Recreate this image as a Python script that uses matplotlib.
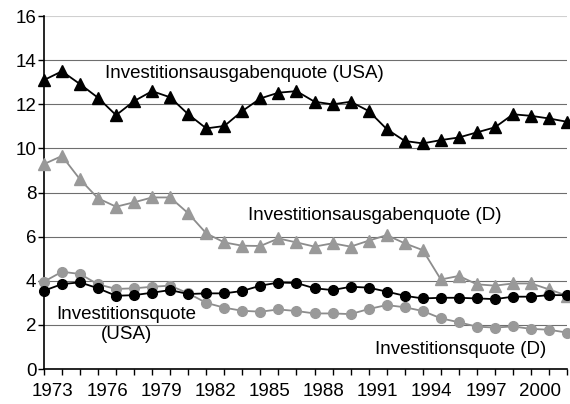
import numpy as np
import matplotlib
matplotlib.use("Agg")
import matplotlib.pyplot as plt

plt.rcParams['font.family'] = ['Liberation Sans', 'DejaVu Sans']

years = np.arange(1973, 2003)
year_labels = [1973, 1976, 1979, 1982, 1985, 1988, 1991, 1994, 1997, 2000]

ausgaben_usa = [13.1, 13.5, 12.92, 12.3, 11.51, 12.15, 12.6, 12.32, 11.55, 10.91,
                11.02, 11.7, 12.27, 12.53, 12.6, 12.12, 12.0, 12.12, 11.7, 10.88,
                10.34, 10.23, 10.38, 10.5, 10.73, 10.96, 11.55, 11.48, 11.36, 11.21]
ausgaben_d = [9.29, 9.66, 8.6, 7.74, 7.36, 7.56, 7.78, 7.78, 7.06, 6.15,
              5.74, 5.59, 5.58, 5.92, 5.74, 5.55, 5.7, 5.55, 5.82, 6.07,
              5.7, 5.39, 4.06, 4.22, 3.84, 3.78, 3.88, 3.88, 3.61, 3.32]
quote_usa = [3.55, 3.85, 3.93, 3.66, 3.32, 3.35, 3.46, 3.58, 3.40, 3.43,
             3.43, 3.54, 3.78, 3.92, 3.9, 3.66, 3.58, 3.73, 3.69, 3.51,
             3.32, 3.2, 3.23, 3.23, 3.2, 3.17, 3.28, 3.28, 3.35, 3.35]
quote_d = [3.96, 4.41, 4.31, 3.84, 3.63, 3.66, 3.73, 3.78, 3.43, 3.0,
           2.78, 2.64, 2.6, 2.7, 2.63, 2.52, 2.52, 2.49, 2.72, 2.9,
           2.8, 2.63, 2.3, 2.12, 1.92, 1.88, 1.93, 1.82, 1.78, 1.65]

gray = '#999999'
gray_line = '#8c8c8c'

fig = plt.figure(figsize=(5.7, 4.04), dpi=100)
ax = fig.add_axes([0.077, 0.0866, 0.918, 0.8734])

ax.plot(years, ausgaben_d, color=gray_line, lw=1.3, marker='^', ms=8,
        mfc=gray, mec=gray, zorder=3, clip_on=False)
ax.plot(years, quote_d, color=gray_line, lw=1.3, marker='o', ms=7,
        mfc=gray, mec=gray, zorder=4, clip_on=False)
ax.plot(years, quote_usa, color='black', lw=1.3, marker='o', ms=7,
        mfc='black', mec='black', zorder=5, clip_on=False)
ax.plot(years, ausgaben_usa, color='black', lw=1.3, marker='^', ms=8,
        mfc='black', mec='black', zorder=6, clip_on=False)

ax.set_xlim(1973, 2002)
ax.set_ylim(0, 16)
ax.set_yticks(np.arange(0, 17, 2))
ax.set_xticks(years)
ax.set_xticklabels([])
ax.set_xticks([y + 0.5 for y in year_labels], minor=True)
ax.set_xticklabels([str(y) for y in year_labels], minor=True)
ax.tick_params(axis='x', which='major', direction='out', length=4.5, width=1, color='black')
ax.tick_params(axis='x', which='minor', length=0, pad=10, labelsize=13.5)
ax.tick_params(axis='y', direction='out', length=4.5, width=1, labelsize=13.5, pad=1)

ax.grid(axis='y', color='#6e6e6e', lw=0.8)
ax.get_ygridlines()[-1].set_color('#d0d0d0')
ax.set_axisbelow(True)

for s in ['top', 'right']:
    ax.spines[s].set_visible(False)
ax.spines['left'].set_linewidth(1.2)
ax.spines['bottom'].set_linewidth(1.2)

ax.text(1976.4, 13.4, 'Investitionsausgabenquote (USA)', fontsize=13.5, va='center')
ax.text(1984.3, 6.98, 'Investitionsausgabenquote (D)', fontsize=13.5, va='center')
ax.text(1977.57, 2.02, 'Investitionsquote\n(USA)', fontsize=13.5, va='center',
        ha='center', linespacing=1.2)
ax.text(1991.36, 0.9, 'Investitionsquote (D)', fontsize=13.5, va='center')

fig.savefig('out.png', dpi=100)
